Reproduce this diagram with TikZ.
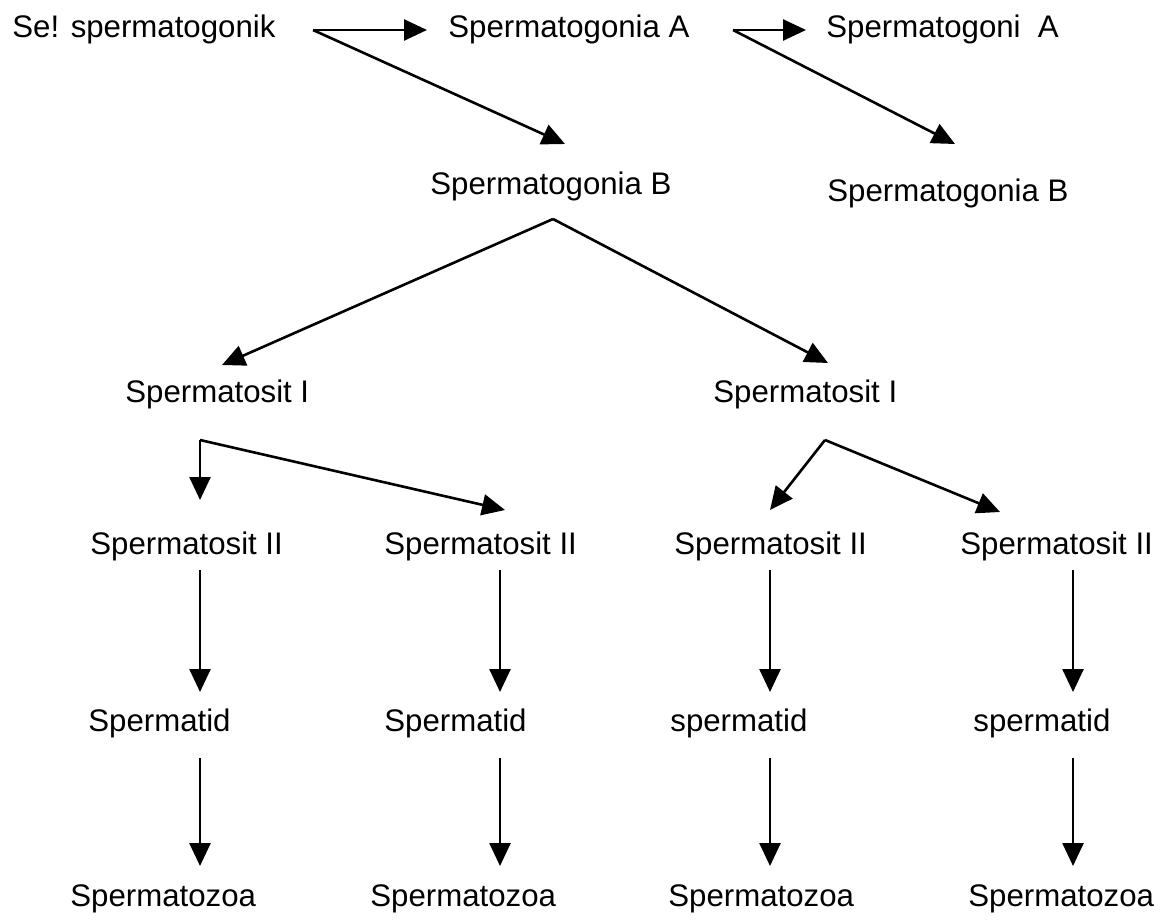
\documentclass[tikz,border=0pt]{standalone}
\usepackage{fontspec}
\setmainfont{Liberation Sans}
\usetikzlibrary{arrows.meta}
\begin{document}
\begin{tikzpicture}[x=0.5pt,y=-0.5pt,
  lbl/.style={anchor=base west,inner sep=0pt,font=\fontsize{15.6}{19}\selectfont},
  arr/.style={line width=1.3pt,-{Triangle[length=11.5pt,width=10.5pt]}},
  ln/.style={line width=1.3pt}]
\useasboundingbox[fill=white] (0,0) rectangle (1170,920);
% labels
\node[lbl] (sel) at (12,38) {Se! spermatogonik};
\node[lbl] (sga1) at (448,38) {Spermatogonia A};
\node[lbl] (sga2) at (826,38) {Spermatogoni\ \ A};
\node[lbl] (sgb1) at (430,194) {Spermatogonia B};
\node[lbl] (sgb2) at (827,201) {Spermatogonia B};
\node[lbl] (sc1a) at (125,402) {Spermatosit I};
\node[lbl] (sc1b) at (713,402) {Spermatosit I};
\node[lbl] (sc2a) at (90,554) {Spermatosit II};
\node[lbl] (sc2b) at (384,554) {Spermatosit II};
\node[lbl] (sc2c) at (674,554) {Spermatosit II};
\node[lbl] (sc2d) at (960,554) {Spermatosit II};
\node[lbl] (tda) at (88,731) {Spermatid};
\node[lbl] (tdb) at (384,731) {Spermatid};
\node[lbl] (tdc) at (670,731) {spermatid};
\node[lbl] (tdd) at (973,731) {spermatid};
\node[lbl] (zoa) at (70,906) {Spermatozoa};
\node[lbl] (zob) at (370,906) {Spermatozoa};
\node[lbl] (zoc) at (668,906) {Spermatozoa};
\node[lbl] (zod) at (968,906) {Spermatozoa};
% branch points
\coordinate (p1) at (313,30);
\coordinate (p2) at (733,30);
\coordinate (p3) at (553,219);
\coordinate (p4) at (200,440);
\coordinate (p5) at (825,440);
% arrow ends
\coordinate (e1a) at (427,30);
\coordinate (e1b) at (565,144);
\coordinate (e2a) at (806,30);
\coordinate (e2b) at (955,144);
\coordinate (e3a) at (222,365);
\coordinate (e3b) at (828,363);
\coordinate (e4a) at (200,500);
\coordinate (e4b) at (505,510);
\coordinate (e5a) at (770,510);
\coordinate (e5b) at (1000,512);
\draw[arr] (p1) -- (e1a);
\draw[arr] (p1) -- (e1b);
\draw[arr] (p2) -- (e2a);
\draw[arr] (p2) -- (e2b);
\draw[arr] (p3) -- (e3a);
\draw[arr] (p3) -- (e3b);
\draw[arr] (p4) -- (e4a);
\draw[arr] (p4) -- (e4b);
\draw[arr] (p5) -- (e5a);
\draw[arr] (p5) -- (e5b);
% vertical arrows
\foreach \c/\xx in {a/200,b/500,c/770,d/1073}{
  \coordinate (u\c) at (\xx,570);
  \coordinate (v\c) at (\xx,692);
  \coordinate (w\c) at (\xx,758);
  \coordinate (z\c) at (\xx,866);
  \draw[arr] (u\c) -- (v\c);
  \draw[arr] (w\c) -- (z\c);
}
\end{tikzpicture}
\end{document}
